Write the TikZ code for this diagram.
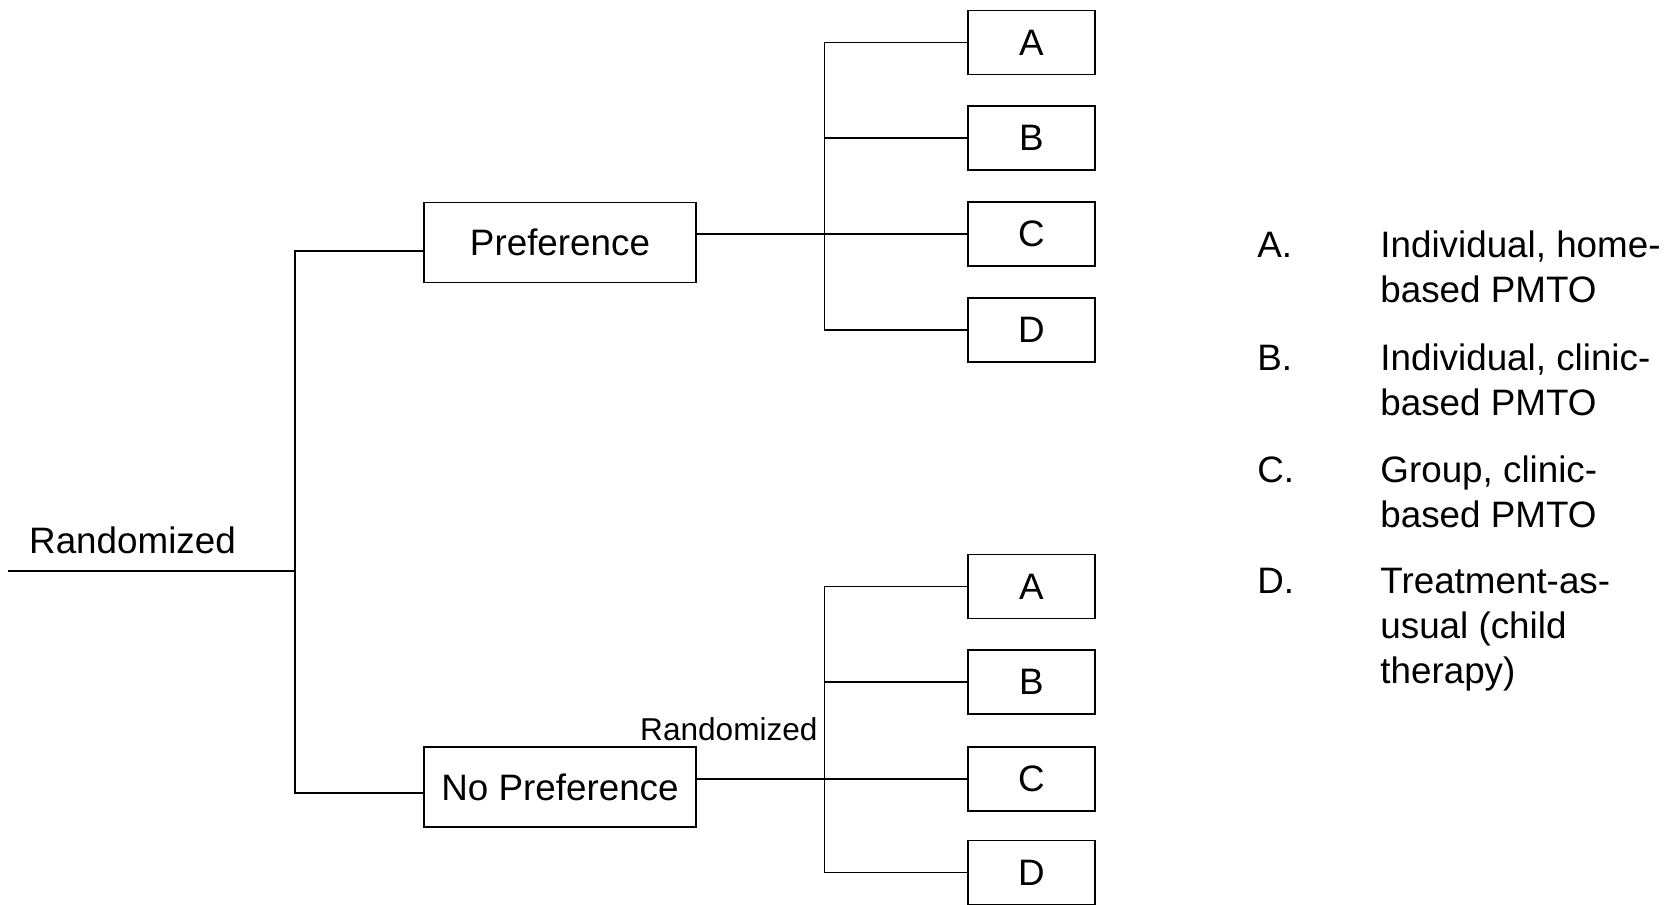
\documentclass[tikz,border=0pt]{standalone}
\usepackage{fontspec}
\setmainfont{Liberation Sans}
\usetikzlibrary{positioning}
\begin{document}
\begin{tikzpicture}[x=0.5pt,y=-0.5pt,
  every node/.style={font=\fontsize{18.4}{22.5}\selectfont, inner sep=0pt},
  bigbox/.style={draw, line width=0.9pt, minimum width=136pt, minimum height=40pt},
  optbox/.style={draw, line width=0.9pt, minimum width=63.5pt, minimum height=32pt},
  link/.style={line width=0.9pt},
  small/.style={font=\fontsize{15.8}{19}\selectfont}]
\useasboundingbox (0,0) rectangle (1666,905);

% root
\coordinate (s) at (8,570.6);
\coordinate (j) at (295,570.6);
\node (rl) at (132.5,540) {Randomized};

% middle boxes
\node[bigbox] (pref) at (560,242.5) {Preference};
\node[bigbox] (nopref) at (560,787) {No Preference};

% option boxes, top
\node[optbox] (A1) at (1031.5,42.5) {A};
\node[optbox] (B1) at (1031.5,138) {B};
\node[optbox] (C1) at (1031.5,234) {C};
\node[optbox] (D1) at (1031.5,330) {D};
% option boxes, bottom
\node[optbox] (A2) at (1031.5,586.5) {A};
\node[optbox] (B2) at (1031.5,682) {B};
\node[optbox] (C2) at (1031.5,778.8) {C};
\node[optbox] (D2) at (1031.5,872.5) {D};

\coordinate (v1) at (824.5,0);
\coordinate (v2) at (824.5,600);
\node[small, anchor=east] (rs) at (818,729) {Randomized};

% connectors, root
\draw[link] (s) -- (j);
\draw[link] ([yshift=-4.25pt]pref.west) -| (j) |- ([yshift=-3pt]nopref.west);

% top tree
\draw[link] (A1.west) -| (v1 |- D1.west) -- (D1.west);
\draw[link] (v1 |- B1.west) -- (B1.west);
\draw[link] (pref.east |- C1.west) -- (C1.west);

% bottom tree
\draw[link] (A2.west) -| (v2 |- D2.west) -- (D2.west);
\draw[link] (v2 |- B2.west) -- (B2.west);
\draw[link] (nopref.east |- C2.west) -- (C2.west);

% legend (base anchor of a multi-line node is its last line)
\node[anchor=base west] (la) at (1257,257) {A.};
\node[anchor=base west, align=left] (ta) at (1380,302) {Individual, home-\\based PMTO};
\node[anchor=base west] (lb) at (1257,370) {B.};
\node[anchor=base west, align=left] (tb) at (1380,415) {Individual, clinic-\\based PMTO};
\node[anchor=base west] (lc) at (1257,482) {C.};
\node[anchor=base west, align=left] (tc) at (1380,527) {Group, clinic-\\based PMTO};
\node[anchor=base west] (ld) at (1257,593) {D.};
\node[anchor=base west, align=left] (td) at (1380,683) {Treatment-as-\\usual (child\\therapy)};
\end{tikzpicture}
\end{document}
